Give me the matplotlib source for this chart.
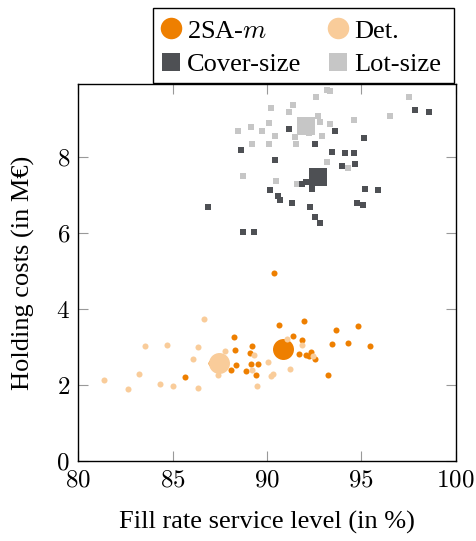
import matplotlib
matplotlib.use("Agg")
import matplotlib.pyplot as plt
from matplotlib.lines import Line2D
from matplotlib.patches import Rectangle

plt.rcParams['font.family'] = ['Liberation Serif', 'DejaVu Serif']
plt.rcParams['mathtext.fontset'] = 'cm'

# Data
lot_x = [93.17, 93.34, 97.51, 92.61, 91.37, 90.22, 91.19, 92.68, 96.50, 92.82, 93.35, 94.59,
         90.09, 89.14, 88.47, 89.76, 92.22, 90.43, 91.46, 92.92, 89.21, 90.11, 91.54, 93.17,
         94.29, 88.75, 90.47, 91.58]
lot_y = [9.76, 9.74, 9.59, 9.59, 9.39, 9.30, 9.18, 9.08, 9.10, 8.92, 8.89, 8.97,
         8.90, 8.80, 8.70, 8.68, 8.64, 8.55, 8.53, 8.57, 8.36, 8.35, 8.36, 7.87,
         7.71, 7.52, 7.38, 7.30]
lot_mean = (92.06, 8.82)

cov_x = [97.83, 98.57, 91.14, 93.60, 95.14, 88.61, 92.55, 93.46, 94.13, 94.59, 90.43, 94.68,
         93.97, 92.08, 91.85, 92.41, 90.16, 95.19, 95.88, 90.57, 90.70, 91.30, 92.29, 94.77,
         95.10, 86.89, 92.54, 92.80, 88.75, 89.33]
cov_y = [9.24, 9.20, 8.74, 8.70, 8.50, 8.18, 8.36, 8.15, 8.12, 8.12, 7.94, 7.82,
         7.77, 7.34, 7.30, 7.17, 7.15, 7.17, 7.14, 6.98, 6.87, 6.80, 6.70, 6.80,
         6.75, 6.68, 6.42, 6.27, 6.03, 6.03]
cov_mean = (92.71, 7.48)

sa_x = [90.38, 90.61, 91.94, 93.68, 94.80, 88.27, 89.23, 91.37, 91.85, 93.46, 94.29, 95.47,
        88.32, 89.10, 91.70, 92.08, 92.31, 92.20, 92.57, 87.02, 88.36, 89.14, 89.51, 88.08,
        88.89, 89.42, 93.23, 85.67]
sa_y = [4.95, 3.60, 3.68, 3.46, 3.57, 3.26, 3.03, 3.29, 3.18, 3.09, 3.11, 3.03,
        2.92, 2.85, 2.83, 2.81, 2.88, 2.76, 2.68, 2.58, 2.53, 2.56, 2.55, 2.39,
        2.38, 2.28, 2.27, 2.22]
sa_mean = (90.85, 2.95)

det_x = [86.66, 83.55, 84.71, 86.36, 86.06, 87.78, 89.30, 91.07, 91.85, 92.46, 90.04, 91.21,
         89.21, 90.34, 90.23, 89.47, 87.39, 83.23, 81.37, 82.66, 84.31, 85.03, 86.33]
det_y = [3.74, 3.03, 3.06, 3.00, 2.68, 2.89, 2.81, 3.22, 3.05, 2.76, 2.61, 2.43,
         2.40, 2.29, 2.24, 1.99, 2.26, 2.30, 2.13, 1.90, 2.03, 1.97, 1.94]
det_mean = (87.46, 2.58)

x_ticks = [80, 85, 90, 95, 100]
y_ticks = [0, 2, 4, 6, 8]

c_sa = '#EE7F00'
c_det = '#F9CC9A'
c_cov = '#4E5054'
c_lot = '#C6C6C6'

W, H = 476, 541
fig = plt.figure(figsize=(W/100, H/100), dpi=100)
ax = fig.add_axes([78.3/W, 1-461.3/H, (455.7-78.3)/W, (461.3-84)/H])

small = 19
ax.scatter(lot_x, lot_y, s=small, marker='s', c=c_lot, linewidths=0, zorder=2)
ax.scatter([lot_mean[0]], [lot_mean[1]], s=150, marker='s', c=c_lot, linewidths=0, zorder=2)
ax.scatter(cov_x, cov_y, s=small, marker='s', c=c_cov, linewidths=0, zorder=3)
ax.scatter([cov_mean[0]], [cov_mean[1]], s=150, marker='s', c=c_cov, linewidths=0, zorder=3)
ax.scatter(sa_x, sa_y, s=small, marker='o', c=c_sa, linewidths=0, zorder=4)
ax.scatter([sa_mean[0]], [sa_mean[1]], s=228, marker='o', c=c_sa, linewidths=0, zorder=4)
ax.scatter(det_x, det_y, s=small, marker='o', c=c_det, linewidths=0, zorder=5)
ax.scatter([det_mean[0]], [det_mean[1]], s=228, marker='o', c=c_det, linewidths=0, zorder=5)

ax.set_xlim(80, 100)
ax.set_ylim(0, 9.93)
ax.set_xticks(x_ticks)
ax.set_xticklabels(['$%d$' % v for v in x_ticks])
ax.set_yticks(y_ticks)
ax.set_yticklabels(['$%d$' % v for v in y_ticks])
ax.tick_params(direction='in', length=7.5, width=0.8, color='#999999', top=True, right=True,
               labelsize=18, pad=6)
for sp in ax.spines.values():
    sp.set_linewidth(1.0)
    sp.set_color('black')

ax.set_xlabel('Fill rate service level (in %)', fontsize=19, labelpad=14)
ax.set_ylabel('Holding costs (in M€)', fontsize=19, labelpad=15)

# legend frame (drawn as a rectangle in figure pixels)
fx0, fy0, fx1, fy1 = 153.0, 7.5, 454.3, 83.3
frame = Rectangle((fx0/W, 1-fy1/H), (fx1-fx0)/W, (fy1-fy0)/H, transform=fig.transFigure,
                  facecolor='white', edgecolor='black', linewidth=1.0, zorder=9)
fig.patches.append(frame)

handles = [
    Line2D([], [], marker='o', linestyle='none', markersize=15.5, markerfacecolor=c_sa, markeredgewidth=0),
    Line2D([], [], marker='s', linestyle='none', markersize=12.5, markerfacecolor=c_cov, markeredgewidth=0),
    Line2D([], [], marker='o', linestyle='none', markersize=15.5, markerfacecolor=c_det, markeredgewidth=0),
    Line2D([], [], marker='s', linestyle='none', markersize=12.5, markerfacecolor=c_lot, markeredgewidth=0),
]
labels = ['2SA-$m$', 'Cover-size', 'Det.', 'Lot-size']
leg = fig.legend(handles, labels, ncol=2, loc='upper left', bbox_to_anchor=((fx0-4)/W, 1-fy0/H),
                 fontsize=19, frameon=False,
                 handlelength=0.8, handletextpad=0.2, borderpad=0.44,
                 labelspacing=0.39, borderaxespad=0, columnspacing=1.0)
leg.set_zorder(10)

fig.savefig('out.png', dpi=100)
